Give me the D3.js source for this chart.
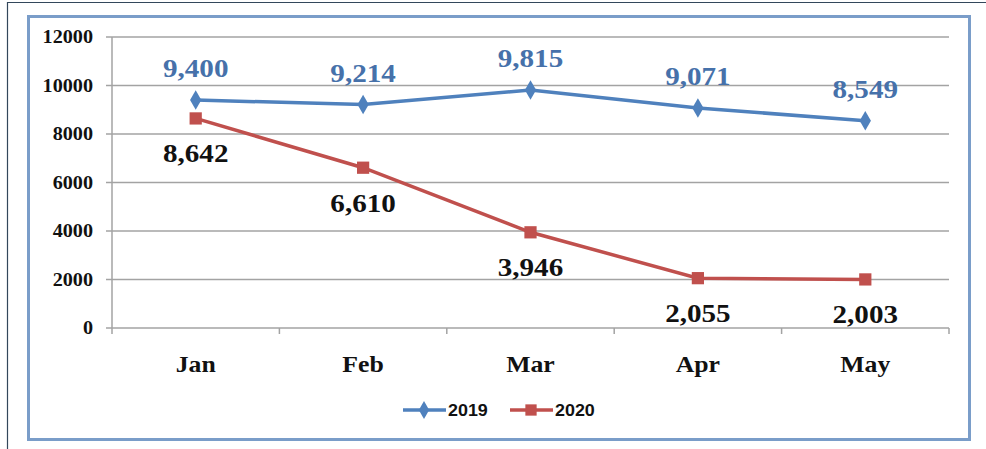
<!DOCTYPE html>
<html>
<head>
<meta charset="utf-8">
<script src="https://cdn.jsdelivr.net/npm/d3@7"></script>
<style>
  body { margin: 0; background: #fff; }
  svg { display: block; }
</style>
</head>
<body>
<div id="chart"></div>
<script>
const months = ['Jan', 'Feb', 'Mar', 'Apr', 'May'];
const sales2019 = [9400, 9214, 9815, 9071, 8549];
const sales2020 = [8642, 6610, 3946, 2055, 2003];
const yTicks = [0, 2000, 4000, 6000, 8000, 10000, 12000];

const width = 986, height = 449;
const stretch = 1.12; // text in the picture is a little wide

const svg = d3.select('#chart').append('svg')
  .attr('width', width)
  .attr('height', height);

// outer dark frame (top and left edges)
svg.append('path')
  .attr('d', 'M7.5,449 V2.5 H986')
  .attr('fill', 'none')
  .attr('stroke', '#33475b')
  .attr('stroke-width', 1.2);

// blue chart frame
svg.append('rect')
  .attr('x', 28.5).attr('y', 16.5)
  .attr('width', 941).attr('height', 423)
  .attr('fill', '#fff')
  .attr('stroke', '#7a9dc9')
  .attr('stroke-width', 3);

const x = d3.scaleBand().domain(months).range([112, 949]);
const y = d3.scaleLinear().domain([0, 12000]).range([328, 37]);

function stretchText(sel) {
  sel.attr('transform', function () {
    const t = d3.select(this);
    const tx = +t.attr('x'), ty = +t.attr('y');
    return `translate(${tx},${ty}) scale(${stretch},1) translate(${-tx},${-ty})`;
  });
}

// gridlines
svg.append('g').selectAll('line')
  .data(yTicks)
  .join('line')
  .attr('x1', 106).attr('x2', 949)
  .attr('y1', d => y(d)).attr('y2', d => y(d))
  .attr('stroke', '#a3a3a3')
  .attr('stroke-width', 1.5);

// y axis line
svg.append('line')
  .attr('x1', 112).attr('x2', 112)
  .attr('y1', y(12000)).attr('y2', y(0))
  .attr('stroke', '#a3a3a3').attr('stroke-width', 1.5);

// x category ticks
const xTickPos = months.map(m => x(m)).concat([x.range()[1]]);
svg.append('g').selectAll('line')
  .data(xTickPos)
  .join('line')
  .attr('x1', d => d).attr('x2', d => d)
  .attr('y1', y(0)).attr('y2', y(0) + 6)
  .attr('stroke', '#a3a3a3').attr('stroke-width', 1.5);

// y labels
svg.append('g').selectAll('text')
  .data(yTicks)
  .join('text')
  .attr('x', 93)
  .attr('y', d => y(d))
  .attr('dy', '0.35em')
  .attr('text-anchor', 'end')
  .attr('font-family', '"Liberation Serif", "Times New Roman", serif')
  .attr('font-weight', 'bold')
  .attr('font-size', 18)
  .attr('fill', '#111')
  .text(d => d)
  .call(stretchText);

// month labels
const cx = m => x(m) + x.bandwidth() / 2;
svg.append('g').selectAll('text')
  .data(months)
  .join('text')
  .attr('x', d => cx(d))
  .attr('y', 372)
  .attr('text-anchor', 'middle')
  .attr('font-family', '"Liberation Serif", "Times New Roman", serif')
  .attr('font-weight', 'bold')
  .attr('font-size', 23)
  .attr('fill', '#111')
  .text(d => d)
  .call(stretchText);

const line = d3.line().x((d, i) => cx(months[i])).y(d => y(d));

const series = [
  { name: '2019', values: sales2019, color: '#4f81bd', labelColor: '#4671aa', above: true, shape: d3.symbolDiamond, size: 110 },
  { name: '2020', values: sales2020, color: '#c0504d', labelColor: '#111', above: false, shape: d3.symbolSquare, size: 150 }
];

series.forEach(s => {
  svg.append('path')
    .datum(s.values)
    .attr('d', line)
    .attr('fill', 'none')
    .attr('stroke', s.color)
    .attr('stroke-width', 3.5);

  svg.append('g').selectAll('path')
    .data(s.values)
    .join('path')
    .attr('transform', (d, i) => `translate(${cx(months[i])},${y(d)})`)
    .attr('d', d3.symbol().type(s.shape).size(s.size))
    .attr('fill', s.color);

  svg.append('g').selectAll('text')
    .data(s.values)
    .join('text')
    .attr('x', (d, i) => cx(months[i]))
    .attr('y', d => s.above ? y(d) - 23 : y(d) + 44)
    .attr('text-anchor', 'middle')
    .attr('font-family', '"Liberation Serif", "Times New Roman", serif')
    .attr('font-weight', 'bold')
    .attr('font-size', 26)
    .attr('fill', s.labelColor)
    .text(d => d3.format(',')(d))
    .call(stretchText);
});

// legend
const legend = svg.append('g');
const legendItems = [
  { s: series[0], x0: 403 },
  { s: series[1], x0: 510 }
];
legendItems.forEach(({ s, x0 }) => {
  legend.append('line')
    .attr('x1', x0).attr('x2', x0 + 43)
    .attr('y1', 410).attr('y2', 410)
    .attr('stroke', s.color).attr('stroke-width', 3.5);
  legend.append('path')
    .attr('transform', `translate(${x0 + 21},410)`)
    .attr('d', d3.symbol().type(s.shape).size(s.size * 0.85))
    .attr('fill', s.color);
  legend.append('text')
    .attr('x', x0 + 45)
    .attr('y', 410)
    .attr('dy', '0.36em')
    .attr('font-family', '"Liberation Sans", Arial, sans-serif')
    .attr('font-weight', 'bold')
    .attr('font-size', 16)
    .attr('fill', '#111')
    .text(s.name)
    .call(stretchText);
});
</script>
</body>
</html>
